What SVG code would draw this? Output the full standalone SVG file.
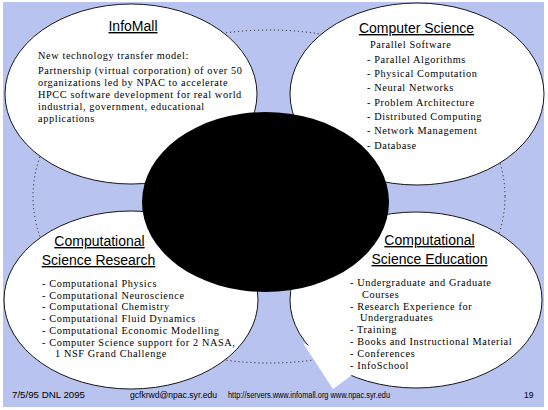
<svg xmlns="http://www.w3.org/2000/svg" width="548" height="410" viewBox="0 0 548 410">
<style>
.bubble{fill:#ffffff;stroke:#000000;stroke-width:0.9}
.title{font-family:"Liberation Sans",Arial,sans-serif;font-size:14px;fill:#000;text-anchor:middle;text-decoration:underline}
.body{font-family:"Liberation Serif","Times New Roman",serif;font-size:10.3px;letter-spacing:0.6px;fill:#000}
.foot{font-family:"Liberation Sans",Arial,sans-serif;font-size:8.5px;fill:#000}
</style>
<rect x="0" y="0" width="548" height="410" fill="#ffffff"/>
<rect x="3" y="2" width="541" height="405" fill="#b8c3ef"/>
<g id="connectors">
<ellipse cx="269" cy="196.5" rx="236" ry="166.5" fill="none" stroke="#000" stroke-width="0.9" stroke-dasharray="1 3"/>
</g>
<g id="infomall">
<ellipse class="bubble" cx="131" cy="94" rx="126" ry="90"/>
<text class="title" x="133" y="31">InfoMall</text>
<text class="body" x="38" y="59">New technology transfer model:</text>
<text class="body" x="38" y="74">Partnership (virtual corporation) of over 50</text>
<text class="body" x="38" y="86">organizations led by NPAC to accelerate</text>
<text class="body" x="38" y="98">HPCC software development for real world</text>
<text class="body" x="38" y="110">industrial, government, educational</text>
<text class="body" x="38" y="122">applications</text>
</g>
<g id="computer-science">
<ellipse class="bubble" cx="417" cy="94" rx="127" ry="91"/>
<text class="title" x="416.5" y="33">Computer Science</text>
<text class="body" x="370" y="48">Parallel Software</text>
<text class="body" x="367" y="63">- Parallel Algorithms</text>
<text class="body" x="367" y="77">- Physical Computation</text>
<text class="body" x="367" y="91">- Neural Networks</text>
<text class="body" x="367" y="106">- Problem Architecture</text>
<text class="body" x="367" y="120">- Distributed Computing</text>
<text class="body" x="367" y="134">- Network Management</text>
<text class="body" x="367" y="149">- Database</text>
</g>
<g id="cs-research">
<ellipse class="bubble" cx="131" cy="300" rx="127" ry="89"/>
<text class="title" x="99.5" y="246">Computational</text>
<text class="title" x="98.5" y="265">Science Research</text>
<text class="body" x="42" y="287">- Computational Physics</text>
<text class="body" x="42" y="298.7">- Computational Neuroscience</text>
<text class="body" x="42" y="310.4">- Computational Chemistry</text>
<text class="body" x="42" y="322.1">- Computational Fluid Dynamics</text>
<text class="body" x="42" y="333.8">- Computational Economic Modelling</text>
<text class="body" x="42" y="345.5">- Computer Science support for 2 NASA,</text>
<text class="body" x="55" y="357.2">1 NSF Grand Challenge</text>
</g>
<g id="cs-education">
<ellipse class="bubble" cx="416" cy="300" rx="126" ry="88"/>
<polygon points="303,343 333,389 352,375 340,360" fill="#ffffff"/>
<text class="title" x="429.5" y="245">Computational</text>
<text class="title" x="429.5" y="264">Science Education</text>
<text class="body" x="350" y="286">- Undergraduate and Graduate</text>
<text class="body" x="362" y="297.8">Courses</text>
<text class="body" x="350" y="309.6">- Research Experience for</text>
<text class="body" x="360" y="321.4">Undergraduates</text>
<text class="body" x="350" y="333.2">- Training</text>
<text class="body" x="350" y="345">- Books and Instructional Material</text>
<text class="body" x="350" y="356.8">- Conferences</text>
<text class="body" x="350" y="368.6">- InfoSchool</text>
</g>
<g id="center">
<ellipse cx="265.5" cy="202" rx="123.5" ry="90" fill="#000000"/>
</g>
<g id="footer">
<text class="foot" x="12" y="398" textLength="73" lengthAdjust="spacingAndGlyphs">7/5/95 DNL 2095</text>
<text class="foot" x="130" y="398" textLength="87" lengthAdjust="spacingAndGlyphs">gcfkrwd@npac.syr.edu</text>
<text class="foot" x="228" y="398" textLength="162" lengthAdjust="spacingAndGlyphs">http://servers.www.infomall.org www.npac.syr.edu</text>
<text class="foot" x="524" y="398">19</text>
</g>
</svg>
